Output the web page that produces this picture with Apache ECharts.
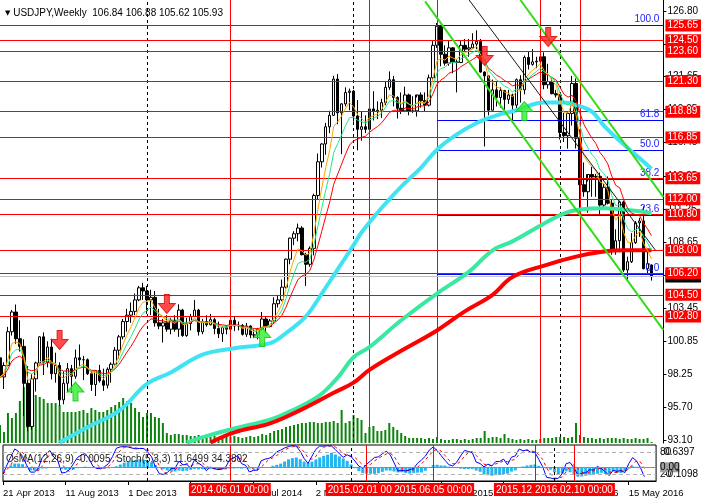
<!DOCTYPE html>
<html>
<head>
<meta charset="utf-8">
<title>USDJPY Weekly</title>
<script src="https://cdn.jsdelivr.net/npm/echarts@6/dist/echarts.min.js"></script>
<style>
  html, body { margin: 0; padding: 0; background: #fff; }
  #chart { width: 701px; height: 501px; }
</style>
</head>
<body>
<div id="chart"></div>
<script>
var FONT = '"Liberation Sans", Arial, sans-serif';
var FIRST_WEEK = Date.UTC(2013, 3, 21);
var FUTURE_WEEKS = 3;

// weekly bars from 21 Apr 2013, [open, high, low, close]
var weeklyBars = [
  [99.55, 99.95, 97.60, 98.05], [98.05, 99.20, 97.10, 98.95], [98.95, 101.98, 98.90, 101.60],
  [101.60, 103.30, 101.30, 103.15], [103.15, 103.74, 100.65, 101.05], [101.05, 102.50, 100.05, 100.45],
  [100.45, 101.00, 94.98, 97.55], [97.55, 98.90, 93.79, 94.15], [94.15, 98.25, 93.90, 97.90],
  [97.90, 99.25, 96.90, 99.15], [99.15, 101.25, 99.00, 101.20], [101.20, 101.55, 98.20, 99.20],
  [99.20, 100.85, 98.80, 100.40], [100.40, 101.05, 97.85, 98.30], [98.30, 99.95, 97.60, 98.95],
  [98.95, 99.20, 95.80, 96.25], [96.25, 98.50, 95.90, 97.55], [97.55, 99.15, 96.85, 98.70],
  [98.70, 99.00, 96.80, 98.10], [98.10, 100.20, 97.90, 99.55], [99.55, 100.60, 98.90, 99.40],
  [99.40, 99.70, 97.80, 99.40], [99.40, 99.50, 98.20, 98.30], [98.30, 98.50, 96.95, 97.45],
  [97.45, 98.60, 96.55, 98.55], [98.55, 99.00, 97.60, 97.75], [97.75, 98.70, 96.95, 97.40],
  [97.40, 98.80, 97.15, 98.65], [98.65, 99.20, 97.60, 99.05], [99.05, 100.40, 98.90, 100.15],
  [100.15, 101.35, 99.50, 101.20], [101.20, 102.60, 101.00, 102.40], [102.40, 103.40, 101.60, 102.90],
  [102.90, 103.90, 102.30, 103.20], [103.20, 104.60, 102.90, 104.10], [104.10, 105.20, 104.00, 105.05],
  [105.05, 105.45, 104.10, 104.80], [104.80, 105.20, 103.00, 104.10], [104.10, 104.90, 102.90, 104.30],
  [104.30, 104.80, 102.00, 102.30], [102.30, 103.40, 101.80, 102.05], [102.05, 102.60, 100.75, 102.30],
  [102.30, 102.90, 101.60, 101.80], [101.80, 102.70, 101.40, 102.50], [102.50, 102.90, 101.60, 101.80],
  [101.80, 103.75, 101.20, 103.30], [103.30, 103.40, 101.20, 101.30], [101.30, 102.70, 101.20, 102.25],
  [102.25, 103.00, 101.70, 102.80], [102.80, 104.10, 102.80, 103.30], [103.30, 103.40, 101.30, 101.60],
  [101.60, 102.60, 101.40, 102.40], [102.40, 102.90, 102.00, 102.15], [102.15, 103.00, 102.10, 102.55],
  [102.55, 102.70, 101.40, 101.85], [101.85, 102.40, 101.10, 101.45], [101.45, 102.00, 100.80, 101.95],
  [101.95, 102.10, 101.40, 101.80], [101.80, 102.80, 101.75, 102.50], [102.50, 102.80, 101.65, 102.05],
  [102.05, 102.40, 101.70, 102.10], [102.10, 102.20, 101.30, 101.40], [101.40, 102.30, 101.20, 102.05],
  [102.05, 102.10, 101.10, 101.35], [101.35, 101.80, 101.10, 101.35], [101.35, 101.90, 101.00, 101.80],
  [101.80, 103.15, 101.70, 102.60], [102.60, 102.80, 101.50, 102.00], [102.00, 102.60, 101.95, 102.45],
  [102.45, 104.30, 102.30, 103.80], [103.80, 104.50, 103.50, 104.10], [104.10, 105.70, 104.00, 105.10],
  [105.10, 107.35, 105.00, 107.30], [107.30, 109.00, 106.90, 108.95], [108.95, 109.50, 108.40, 109.30],
  [109.30, 110.10, 108.70, 109.75], [109.75, 109.90, 107.60, 107.65], [107.65, 107.80, 105.20, 106.90],
  [106.90, 108.30, 106.70, 108.15], [108.15, 112.45, 107.60, 112.30], [112.30, 115.60, 112.00, 114.95],
  [114.95, 116.40, 114.50, 116.35], [116.35, 118.00, 115.50, 117.70], [117.70, 118.95, 117.20, 118.60],
  [118.60, 121.70, 118.55, 121.45], [121.45, 121.85, 117.90, 118.80], [118.80, 119.55, 115.55, 119.50],
  [119.50, 120.80, 119.30, 120.40], [120.40, 120.70, 119.00, 120.50], [120.50, 120.60, 118.10, 118.55],
  [118.55, 119.80, 115.85, 117.50], [117.50, 118.90, 116.60, 117.70], [117.70, 118.60, 117.20, 117.50],
  [117.50, 119.20, 116.90, 119.10], [119.10, 120.50, 118.20, 118.90], [118.90, 119.70, 118.30, 119.00],
  [119.00, 119.90, 118.40, 119.60], [119.60, 121.30, 119.40, 120.80], [120.80, 122.05, 120.60, 121.40],
  [121.40, 121.70, 119.30, 120.00], [120.00, 120.10, 118.35, 119.15], [119.15, 120.40, 118.70, 118.95],
  [118.95, 120.85, 118.90, 120.20], [120.20, 120.30, 118.60, 118.90], [118.90, 120.10, 118.80, 118.95],
  [118.95, 120.00, 118.50, 120.20], [120.20, 120.40, 119.20, 119.75], [119.75, 120.40, 118.90, 119.40],
  [119.40, 121.80, 119.30, 121.55], [121.55, 124.45, 121.40, 124.10], [124.10, 125.86, 123.90, 125.60],
  [125.60, 125.70, 122.45, 123.40], [123.40, 124.10, 122.50, 122.70], [122.70, 124.45, 122.50, 123.90],
  [123.90, 123.95, 121.90, 122.80], [122.80, 123.00, 120.40, 122.75], [122.75, 124.50, 122.70, 124.10],
  [124.10, 124.60, 123.60, 123.80], [123.80, 124.60, 123.20, 123.90], [123.90, 125.05, 123.85, 124.20],
  [124.20, 125.28, 123.80, 124.40], [124.40, 124.60, 121.95, 122.00], [122.00, 122.05, 116.15, 121.70],
  [121.70, 121.75, 118.60, 119.00], [119.00, 121.40, 119.00, 120.60], [120.60, 121.30, 119.30, 120.00],
  [120.00, 120.80, 119.20, 120.55], [120.55, 120.60, 118.70, 119.85], [119.85, 120.60, 119.50, 120.20],
  [120.20, 120.30, 118.05, 119.40], [119.40, 121.50, 119.10, 121.40], [121.40, 121.75, 119.60, 120.60],
  [120.60, 123.30, 120.25, 123.15], [123.15, 123.60, 122.20, 122.60], [122.60, 123.80, 122.50, 122.80],
  [122.80, 123.20, 122.30, 122.85], [122.85, 123.70, 122.20, 123.20], [123.20, 123.55, 120.65, 121.00],
  [121.00, 122.65, 120.70, 121.25], [121.25, 121.50, 120.25, 120.30], [120.30, 120.60, 120.00, 120.20],
  [120.20, 120.25, 116.70, 117.25], [117.25, 118.80, 116.50, 117.00], [117.00, 118.90, 115.98, 118.75],
  [118.75, 121.70, 117.80, 121.10], [121.10, 121.50, 116.00, 116.80], [116.80, 117.50, 110.98, 113.15],
  [113.15, 114.90, 112.20, 112.60], [112.60, 113.40, 110.95, 113.95], [113.95, 114.55, 112.20, 113.75],
  [113.75, 114.00, 112.20, 113.80], [113.80, 114.10, 110.70, 111.55], [111.55, 113.20, 111.30, 112.95],
  [112.95, 113.80, 111.60, 111.70], [111.70, 112.00, 107.65, 108.05], [108.05, 109.65, 107.65, 108.75],
  [108.75, 111.90, 107.85, 111.80], [111.80, 111.90, 106.30, 106.45], [106.45, 107.50, 105.55, 107.10],
  [107.10, 109.35, 107.00, 108.60], [108.60, 110.30, 108.50, 110.15], [110.15, 110.55, 109.05, 110.30],
  [110.30, 111.45, 106.50, 106.55], [106.55, 107.90, 106.20, 106.95], [106.84, 106.88, 105.62, 105.93]
];

var tickVolume = [
  18, 11, 30, 25, 30, 42, 56, 55, 51, 48, 46, 44, 40, 40, 40, 38, 31, 31, 31, 31,
  32, 33, 30, 35, 33, 31, 31, 33, 36, 38, 41, 45, 42, 40, 35, 31, 26, 30, 30, 26,
  25, 20, 10, 8, 9, 9, 8, 8, 7, 7, 8, 7, 6, 6, 7, 6, 5, 6, 6, 7,
  6, 5, 6, 7, 6, 7, 9, 8, 10, 12, 13, 14, 16, 17, 18, 19, 20, 20, 21, 21,
  20, 20, 21, 21, 22, 20, 33, 20, 22, 28, 25, 23, 10, 16, 17, 12, 12, 13, 20, 16,
  13, 10, 7, 5, 5, 5, 5, 4, 5, 4, 6, 4, 3, 3, 4, 4, 3, 4, 3, 4,
  5, 5, 12, 5, 6, 6, 5, 9, 5, 4, 3, 4, 3, 4, 3, 3, 4, 5, 5, 5,
  6, 6, 6, 5, 6, 20, 8, 6, 5, 5, 4, 5, 4, 5, 5, 5, 4, 5, 4, 4,
  5, 4, 4, 5, 1
];

var priceTicks = [93.10, 95.70, 98.25, 100.85, 103.45, 106.05, 108.65, 111.25,
  113.85, 116.45, 119.05, 121.65, 124.20, 126.80];
var levels = [125.65, 124.50, 123.60, 121.30, 118.89, 116.85, 113.65, 112.00,
  110.80, 108.00, 106.20, 104.50, 102.80];

var fibHigh = 125.65;
var fibLow = 106.10;
var fibRatios = [100.0, 61.8, 50.0, 38.2, 23.6, 0.0];
var fibFromWeek = '2015.05.31';

var markedWeeks = ['2014.06.01', '2015.02.01', '2015.05.31', '2015.11.29', '2016.02.07'];
var markedLabels = ['2014.06.01 00:00', '2015.02.01 00:00', '2015.06.05 00:00',
  '2015.12.01 00:00', '2016.02.10 00:00'];
var yearStarts = ['2014.01.05', '2015.01.04', '2016.01.03'];

// long moving averages: [week index, price]
var maAqua = [[15, 92.9], [22, 94.1], [30, 95.4], [37, 97.5], [43, 98.4], [51, 99.8],
  [59, 100.3], [68, 100.7], [72, 101.5], [77, 102.8], [81, 104.6], [85, 106.5],
  [89, 108.4], [91, 109.4], [96, 111.3], [101, 113.0], [106, 114.5], [110, 115.9],
  [115, 117.1], [120, 118.0], [125, 118.6], [130, 119.0], [137, 119.6], [142, 119.6],
  [145, 119.4], [149, 118.9], [152, 117.8], [156, 116.6], [160, 115.5], [164, 114.4]];
var maSpring = [[47, 92.9], [53, 93.5], [59, 94.0], [68, 94.7], [72, 95.2], [80, 96.5],
  [85, 98.0], [89, 99.6], [93, 100.4], [101, 102.5], [110, 104.6], [118, 106.3],
  [124, 108.0], [129, 108.7], [137, 110.1], [142, 110.9], [146, 111.2], [152, 111.3],
  [160, 111.1], [164, 110.9]];
var maRed = [[53, 92.9], [59, 93.7], [68, 94.4], [76, 95.5], [84, 96.8], [89, 97.6],
  [93, 98.6], [101, 100.1], [110, 101.7], [117, 103.2], [124, 104.5], [129, 105.9],
  [137, 106.8], [145, 107.5], [152, 107.9], [157, 108.0], [164, 108.0]];

// trend channel drawn on the chart: [week index, price] end points
var channelLow = [[107, 127.55], [167, 101.73]];
var channelHigh = [[131, 127.66], [167, 112.18]];
var channelMid = [[118, 127.70], [165, 108.00]];

var sellArrows = [[15, 100.95], [42, 103.78], [122, 123.26], [138, 124.75]];
var buyArrows = [[19, 96.90], [66, 101.19], [132, 118.94]];

var MONTHS = ['Jan', 'Feb', 'Mar', 'Apr', 'May', 'Jun', 'Jul', 'Aug', 'Sep', 'Oct', 'Nov', 'Dec'];

function pad(v) {
  return String(v).padStart(2, '0');
}

var categories = [];
for (var w = 0; w < weeklyBars.length + FUTURE_WEEKS; w++) {
  var d = new Date(FIRST_WEEK + w * 7 * 86400000);
  categories.push(d.getUTCFullYear() + '.' + pad(d.getUTCMonth() + 1) + '.' + pad(d.getUTCDate()));
}

function axisDate(value) {
  var p = value.split('.');
  return Number(p[2]) + ' ' + MONTHS[Number(p[1]) - 1] + ' ' + p[0];
}

// indicators on the closes
function ema(values, period) {
  var k = 2 / (period + 1);
  var out = [];
  var prev = values[0];
  values.forEach(function (v, i) {
    prev = i === 0 ? v : v * k + prev * (1 - k);
    out.push(prev);
  });
  return out;
}

function sma(values, period) {
  return values.map(function (v, i) {
    var from = Math.max(0, i - period + 1);
    var sum = 0;
    for (var j = from; j <= i; j++) sum += values[j];
    return sum / (i - from + 1);
  });
}

var closes = weeklyBars.map(function (b) { return b[3]; });
var fast = ema(closes, 5);
var middle = ema(closes, 8);
var slow = ema(closes, 13);

var ema12 = ema(closes, 12);
var ema26 = ema(closes, 26);
var macd = ema12.map(function (v, i) { return v - ema26[i]; });
var macdSignal = sma(macd, 9);
var osma = macd.map(function (v, i) { return v - macdSignal[i]; });

var stochK = weeklyBars.map(function (b, i) {
  var num = 0;
  var den = 0;
  for (var j = Math.max(0, i - 2); j <= i; j++) {
    var lo = Infinity;
    var hi = -Infinity;
    for (var m = Math.max(0, j - 4); m <= j; m++) {
      lo = Math.min(lo, weeklyBars[m][2]);
      hi = Math.max(hi, weeklyBars[m][1]);
    }
    num += weeklyBars[j][3] - lo;
    den += hi - lo;
  }
  return den ? (100 * num) / den : 50;
});
var stochD = sma(stochK, 3);

function round(arr) {
  return arr.map(function (v) { return Math.round(v * 1000) / 1000; });
}

var osmaTop = Math.max.apply(null, osma) * 22.3 / 14.5;
var osmaBottom = -osmaTop * 13.7 / 22.3;

var last = weeklyBars[weeklyBars.length - 1];
var lastPrice = last[3];

var chart = echarts.init(document.getElementById('chart'), null, { renderer: 'canvas' });

function labelEvery(index) {
  return index % 16 === 0;
}

var levelLines = [{
  yAxis: lastPrice,
  lineStyle: { color: '#c0c0c0', type: 'solid', width: 1 },
  label: { backgroundColor: '#000' }
}].concat(levels.map(function (v) {
  return { yAxis: v };
}));

var fibLines = fibRatios.map(function (r) {
  var price = fibLow + (fibHigh - fibLow) * r / 100;
  return [
    { coord: [fibFromWeek, price] },
    {
      coord: [categories[categories.length - 1], price],
      label: { formatter: r.toFixed(1) }
    }
  ];
});

var verticalMain = markedWeeks.map(function (w) {
  return { xAxis: w, lineStyle: { color: '#ff0000', type: 'solid' } };
}).concat(yearStarts.map(function (w) {
  return { xAxis: w, lineStyle: { color: '#000', type: [3, 3] } };
}));

var verticalSub = markedWeeks.map(function (w, i) {
  return {
    xAxis: w,
    lineStyle: { color: '#ff0000', type: 'solid' },
    label: {
      show: true,
      formatter: markedLabels[i]
    }
  };
}).concat(yearStarts.map(function (w) {
  return { xAxis: w, lineStyle: { color: '#000', type: [3, 3] }, label: { show: false } };
}));

var option = {
  animation: false,
  backgroundColor: '#fff',
  textStyle: { fontFamily: FONT },
  title: [
    {
      left: 0,
      top: 3,
      text: '{tri|▼} USDJPY,Weekly  ' + last.map(function (v) { return v.toFixed(2); }).join(' '),
      textStyle: {
        fontSize: 10,
        fontWeight: 'normal',
        color: '#000',
        fontFamily: FONT,
        rich: { tri: { fontSize: 7, fontFamily: 'DejaVu Sans', color: '#000' } }
      }
    },
    {
      left: 1,
      top: 449,
      text: 'OsMA(12,26,9) -0.0095  Stoch(5,3,3) 11.6499 34.3802',
      textStyle: { fontSize: 10, fontWeight: 'normal', color: '#222', fontFamily: FONT }
    }
  ],
  grid: [
    { left: -4.5, top: 0, width: 668, height: 443 },
    { left: -4.5, top: 445, width: 668, height: 36, show: true, borderColor: '#000', borderWidth: 1 }
  ],
  xAxis: [
    {
      type: 'category',
      gridIndex: 0,
      data: categories,
      boundaryGap: false,
      axisLine: { show: false },
      axisTick: { show: false },
      axisLabel: { show: false },
      splitLine: { show: false }
    },
    {
      type: 'category',
      gridIndex: 1,
      data: categories,
      boundaryGap: false,
      axisLine: { show: true, lineStyle: { color: '#000' } },
      axisTick: { show: true, interval: labelEvery, length: 4, lineStyle: { color: '#000' } },
      axisLabel: {
        interval: labelEvery,
        formatter: axisDate,
        align: 'left',
        margin: 7,
        fontSize: 9.5,
        color: '#000',
        fontFamily: FONT
      },
      splitLine: { show: false }
    }
  ],
  yAxis: [
    {
      type: 'value',
      gridIndex: 0,
      position: 'right',
      min: 92.86,
      max: 127.66,
      axisLine: { show: true, lineStyle: { color: '#000' } },
      axisTick: { show: true, customValues: priceTicks, length: 3, lineStyle: { color: '#000' } },
      axisLabel: {
        customValues: priceTicks,
        formatter: function (v) { return v.toFixed(2); },
        color: '#000',
        fontSize: 10,
        margin: 4,
        fontFamily: FONT
      },
      splitLine: { show: false }
    },
    { type: 'value', gridIndex: 0, min: 0, max: 443, show: false },
    {
      type: 'value',
      gridIndex: 1,
      position: 'right',
      min: 0,
      max: 100,
      axisLine: { show: false },
      axisTick: { show: false },
      axisLabel: { customValues: [20, 80], color: '#000', fontSize: 10, margin: 4, fontFamily: FONT },
      splitLine: { show: false }
    },
    {
      type: 'value',
      gridIndex: 1,
      position: 'right',
      min: osmaBottom,
      max: osmaTop,
      axisLine: { show: false },
      axisTick: { show: false },
      axisLabel: {
        customValues: [0],
        formatter: function () { return '0.00'; },
        color: '#000',
        backgroundColor: '#a0a0a0',
        fontSize: 10,
        margin: 4,
        fontFamily: FONT
      },
      splitLine: { show: false }
    },
    {
      type: 'value',
      gridIndex: 1,
      position: 'right',
      min: 0,
      max: 100,
      axisLine: { show: false },
      axisTick: { show: false },
      axisLabel: {
        customValues: [20, 80],
        formatter: function (v) { return v === 80 ? '0.6397' : '-0.1098'; },
        color: '#000',
        fontSize: 10,
        margin: 8,
        fontFamily: FONT
      },
      splitLine: { show: false }
    }
  ],
  series: [
    {
      name: 'Volumes',
      type: 'bar',
      xAxisIndex: 0,
      yAxisIndex: 1,
      data: tickVolume,
      barWidth: 2,
      itemStyle: { color: '#0a840a' },
      z: 1,
      markLine: {
        silent: true,
        symbol: ['none', 'none'],
        label: { show: false },
        lineStyle: { width: 1 },
        data: verticalMain
      }
    },
    {
      name: 'Levels',
      type: 'line',
      xAxisIndex: 0,
      yAxisIndex: 0,
      data: [],
      z: 2,
      markLine: {
        silent: true,
        symbol: ['none', 'none'],
        lineStyle: { color: '#ff0000', type: 'solid', width: 1 },
        label: {
          show: true,
          position: 'end',
          distance: 2,
          formatter: function (p) { return Number(p.value).toFixed(2); },
          color: '#fff',
          backgroundColor: '#ff0000',
          padding: [1, 3, 0, 2],
          fontSize: 10,
          lineHeight: 11,
          fontFamily: FONT
        },
        data: levelLines
      }
    },
    {
      name: 'Fibo',
      type: 'line',
      xAxisIndex: 0,
      yAxisIndex: 0,
      data: [],
      z: 3,
      markLine: {
        silent: true,
        symbol: ['none', 'none'],
        lineStyle: { color: '#0000ff', type: 'solid', width: 1 },
        label: {
          show: true,
          position: 'insideEndTop',
          distance: [4, 1],
          color: '#2020ff',
          fontSize: 10,
          fontFamily: FONT
        },
        data: fibLines
      }
    },
    {
      name: 'USDJPY',
      type: 'candlestick',
      xAxisIndex: 0,
      yAxisIndex: 0,
      barWidth: 3,
      z: 4,
      data: weeklyBars.map(function (b) { return [b[0], b[3], b[2], b[1]]; }),
      itemStyle: {
        color: '#ffffff',
        color0: '#000000',
        borderColor: '#000000',
        borderColor0: '#000000',
        borderWidth: 1
      }
    },
    {
      name: 'MA aqua', type: 'line', xAxisIndex: 0, yAxisIndex: 0, data: maAqua,
      smooth: 0.4, showSymbol: false, z: 5,
      lineStyle: { color: '#3fe3f2', width: 4 }
    },
    {
      name: 'MA spring', type: 'line', xAxisIndex: 0, yAxisIndex: 0, data: maSpring,
      smooth: 0.4, showSymbol: false, z: 5,
      lineStyle: { color: '#3be8a2', width: 4 }
    },
    {
      name: 'MA red', type: 'line', xAxisIndex: 0, yAxisIndex: 0, data: maRed,
      smooth: 0.4, showSymbol: false, z: 5,
      lineStyle: { color: '#ff0000', width: 4 }
    },
    {
      name: 'EMA13', type: 'line', xAxisIndex: 0, yAxisIndex: 0, data: round(slow),
      showSymbol: false, z: 6, lineStyle: { color: '#ff0000', width: 1 }
    },
    {
      name: 'EMA8', type: 'line', xAxisIndex: 0, yAxisIndex: 0, data: round(middle),
      showSymbol: false, z: 6, lineStyle: { color: '#1ee88c', width: 1 }
    },
    {
      name: 'EMA5', type: 'line', xAxisIndex: 0, yAxisIndex: 0, data: round(fast),
      showSymbol: false, z: 6, lineStyle: { color: '#ffa500', width: 1 }
    },
    {
      name: 'Channel low', type: 'line', xAxisIndex: 0, yAxisIndex: 0, data: channelLow,
      showSymbol: false, z: 7, lineStyle: { color: '#36dc1c', width: 2 }
    },
    {
      name: 'Channel high', type: 'line', xAxisIndex: 0, yAxisIndex: 0, data: channelHigh,
      showSymbol: false, z: 7, lineStyle: { color: '#36dc1c', width: 2 }
    },
    {
      name: 'Channel mid', type: 'line', xAxisIndex: 0, yAxisIndex: 0, data: channelMid,
      showSymbol: false, z: 7, lineStyle: { color: '#1a1a1a', width: 1 }
    },
    {
      name: 'Sell', type: 'scatter', xAxisIndex: 0, yAxisIndex: 0, data: sellArrows, z: 8,
      symbol: 'path://M6,0 H11 V9 H17 L8.5,19 L0,9 H6 Z',
      symbolSize: [17, 19],
      itemStyle: { color: '#ff1e1e', borderColor: '#d40000', borderWidth: 1 }
    },
    {
      name: 'Buy', type: 'scatter', xAxisIndex: 0, yAxisIndex: 0, data: buyArrows, z: 8,
      symbol: 'path://M8.5,0 L17,10 H11 V19 H6 V10 H0 Z',
      symbolSize: [17, 19],
      itemStyle: { color: '#2ef02e', borderColor: '#12c012', borderWidth: 1 }
    },
    {
      name: 'OsMA',
      type: 'bar',
      xAxisIndex: 1,
      yAxisIndex: 3,
      data: round(osma),
      barWidth: 3,
      itemStyle: { color: '#22b6f0' },
      z: 2,
      markLine: {
        silent: true,
        symbol: ['none', 'none'],
        label: { show: false },
        lineStyle: { color: '#8c8c8c', type: 'solid', width: 1 },
        data: [{ yAxis: 0 }]
      }
    },
    {
      name: 'Stoch main',
      type: 'line',
      xAxisIndex: 1,
      yAxisIndex: 2,
      data: round(stochK),
      showSymbol: false,
      clip: false,
      z: 4,
      lineStyle: { color: '#0000ff', width: 1 },
      markLine: {
        silent: true,
        symbol: ['none', 'none'],
        lineStyle: { width: 1 },
        label: {
          position: 'start',
          distance: 2,
          color: '#fff',
          backgroundColor: '#ff0000',
          padding: [2, 2, 1, 2],
          fontSize: 10,
          fontFamily: FONT
        },
        data: [
          { yAxis: 80, lineStyle: { color: '#b4b4b4', type: [4, 3] }, label: { show: false } },
          { yAxis: 20, lineStyle: { color: '#b4b4b4', type: [4, 3] }, label: { show: false } }
        ].concat(verticalSub)
      }
    },
    {
      name: 'Stoch signal',
      type: 'line',
      xAxisIndex: 1,
      yAxisIndex: 2,
      data: round(stochD),
      showSymbol: false,
      z: 3,
      lineStyle: { color: '#ff0000', width: 1, type: [3, 3] }
    }
  ]
};

chart.setOption(option);
</script>
</body>
</html>
